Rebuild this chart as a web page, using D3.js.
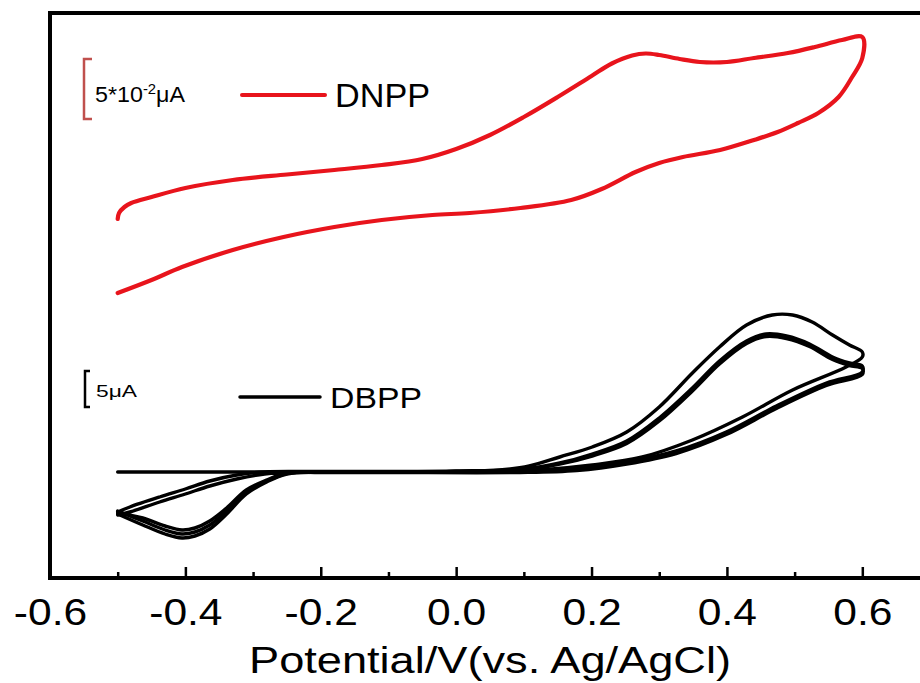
<!DOCTYPE html>
<html>
<head>
<meta charset="utf-8">
<script src="https://cdn.jsdelivr.net/npm/d3@7"></script>
<style>
  html, body { margin: 0; padding: 0; background: #ffffff; overflow: hidden; }
  svg { display: block; }
  text { font-family: "Liberation Sans", Arial, sans-serif; fill: #000; }
</style>
</head>
<body>
<svg id="chart" width="920" height="683" viewBox="0 0 920 683"></svg>
<script>
// Potential axis ticks (V vs. Ag/AgCl)
const majorTicks = [-0.6, -0.4, -0.2, 0.0, 0.2, 0.4, 0.6];
const tickLabels = ["-0.6", "-0.4", "-0.2", "0.0", "0.2", "0.4", "0.6"];
const minorTicks = [-0.5, -0.3, -0.1, 0.1, 0.3, 0.5, 0.7];

// DNPP voltammogram, [potential V, offset current a.u.]
const dnppForward = [
  [-0.500, 71.8], [-0.498, 73.0], [-0.490, 74.2], [-0.480, 75.0], [-0.450, 76.2],
  [-0.400, 78.0], [-0.330, 79.6], [-0.250, 80.7], [-0.180, 81.6], [-0.110, 82.6],
  [-0.050, 83.8], [0.000, 85.8], [0.050, 88.6], [0.100, 92.2], [0.150, 96.2],
  [0.200, 100.4], [0.230, 102.9], [0.260, 104.5], [0.280, 104.9], [0.300, 104.6],
  [0.330, 103.8], [0.360, 103.2], [0.400, 103.2], [0.440, 104.0], [0.490, 105.0],
  [0.530, 106.2], [0.570, 107.6], [0.600, 108.2]
];
const dnppReverse = [
  [0.600, 104.0], [0.585, 100.2], [0.565, 96.2], [0.535, 93.0], [0.505, 91.0],
  [0.475, 89.2], [0.440, 87.6], [0.390, 85.6], [0.335, 84.2], [0.300, 83.0],
  [0.265, 81.2], [0.215, 77.8], [0.170, 75.6], [0.095, 74.0], [0.020, 73.0],
  [-0.035, 72.6], [-0.110, 71.6], [-0.180, 70.2], [-0.255, 68.2], [-0.330, 65.6],
  [-0.405, 62.2], [-0.450, 59.6], [-0.500, 57.0]
];

// DBPP voltammograms, three successive cycles
const dbppCycle1 = [
  [-0.500, 21.2], [-0.400, 21.2], [-0.300, 21.2], [-0.200, 21.2], [-0.100, 21.2],
  [0.000, 21.3], [0.064, 21.6], [0.108, 22.4], [0.153, 24.2], [0.201, 26.2],
  [0.252, 29.2], [0.300, 34.2], [0.349, 41.0], [0.389, 46.2], [0.429, 50.6],
  [0.467, 52.6], [0.497, 52.6], [0.526, 51.2], [0.556, 48.6], [0.581, 46.6],
  [0.600, 45.2], [0.600, 44.2], [0.576, 42.2], [0.497, 37.6], [0.423, 32.2],
  [0.349, 27.6], [0.275, 24.2], [0.201, 22.6], [0.123, 21.6], [0.035, 21.2],
  [-0.100, 21.2], [-0.200, 21.2], [-0.250, 20.8], [-0.280, 19.2], [-0.310, 16.8],
  [-0.339, 12.8], [-0.364, 9.8], [-0.386, 8.4], [-0.405, 8.0], [-0.430, 8.8],
  [-0.463, 10.6], [-0.500, 12.8]
];
const dbppCycle2 = [
  [-0.500, 13.2], [-0.482, 14.2], [-0.438, 16.2], [-0.400, 17.8], [-0.364, 19.4],
  [-0.324, 20.6], [-0.283, 21.2], [-0.230, 21.3], [-0.100, 21.3], [0.000, 21.4],
  [0.100, 21.8], [0.153, 23.0], [0.201, 24.8], [0.252, 27.4], [0.300, 32.0],
  [0.349, 38.0], [0.389, 43.4], [0.429, 47.4], [0.458, 48.8], [0.488, 48.4],
  [0.522, 46.8], [0.556, 44.2], [0.581, 43.0], [0.600, 42.4], [0.600, 41.2],
  [0.547, 39.0], [0.473, 34.4], [0.399, 29.2], [0.325, 25.4], [0.252, 23.2],
  [0.178, 21.8], [0.094, 21.2], [-0.100, 21.2], [-0.200, 21.2], [-0.250, 20.9],
  [-0.280, 19.4], [-0.310, 17.2], [-0.339, 13.4], [-0.364, 10.6], [-0.386, 9.2],
  [-0.405, 8.8], [-0.430, 9.6], [-0.463, 11.4], [-0.500, 13.4]
];
const dbppCycle3 = [
  [-0.500, 12.6], [-0.482, 13.2], [-0.438, 15.2], [-0.400, 16.8], [-0.364, 18.4],
  [-0.324, 19.8], [-0.283, 20.8], [-0.230, 21.2], [-0.100, 21.2], [0.000, 21.3],
  [0.100, 21.7], [0.153, 22.8], [0.201, 24.4], [0.252, 26.9], [0.300, 31.4],
  [0.349, 37.4], [0.389, 42.8], [0.429, 46.9], [0.458, 48.3], [0.488, 47.9],
  [0.522, 46.3], [0.556, 43.7], [0.581, 42.5], [0.600, 41.9], [0.600, 40.7],
  [0.547, 38.5], [0.473, 33.9], [0.399, 28.7], [0.325, 24.9], [0.252, 22.8],
  [0.178, 21.5], [0.094, 21.1], [-0.100, 21.1], [-0.200, 21.1], [-0.250, 21.0],
  [-0.280, 19.6], [-0.310, 17.6], [-0.339, 14.0], [-0.364, 11.4], [-0.386, 10.0],
  [-0.405, 9.6], [-0.430, 10.4], [-0.463, 12.0], [-0.500, 13.0]
];

const seriesNames = ["DNPP", "DBPP"];
const scaleBarLabels = ["5*10", "-2", "\u03bcA", "5\u03bcA"];
const axisTitle = "Potential/V(vs. Ag/AgCl)";

const svg = d3.select("#chart");
const W = 920;

const x = d3.scaleLinear().domain([-0.6, 0.7]).range([50, 930]);
const y = d3.scaleLinear().domain([0, 113]).range([578, 13]);

const line = d3.line()
  .x(d => x(d[0]))
  .y(d => y(d[1]))
  .curve(d3.curveCatmullRom.alpha(0.5));

// bottom axis: major and minor ticks pointing inward
const axisG = svg.append("g").attr("transform", `translate(0,${y(0)})`);
axisG.call(d3.axisBottom(x).tickValues(majorTicks)
    .tickSizeInner(-11).tickSizeOuter(0).tickPadding(21)
    .tickFormat((d, i) => tickLabels[i]));
axisG.select(".domain").remove();
axisG.selectAll(".tick line").attr("stroke", "#000").attr("stroke-width", 2.5);
axisG.selectAll(".tick text")
  .attr("font-size", 37)
  .attr("fill", "#000")
  .attr("transform", "scale(1.15,1)");

const minorG = svg.append("g").attr("transform", `translate(0,${y(0)})`);
minorG.call(d3.axisBottom(x).tickValues(minorTicks)
    .tickSizeInner(-6).tickSizeOuter(0).tickFormat(""));
minorG.select(".domain").remove();
minorG.selectAll(".tick line").attr("stroke", "#000").attr("stroke-width", 2.5);

// axis title
svg.append("text")
  .attr("x", 249).attr("y", 673)
  .attr("font-size", 36)
  .attr("textLength", 482)
  .attr("lengthAdjust", "spacingAndGlyphs")
  .text(axisTitle);

// curves
const redColor = "#e8141c";
svg.append("path")
  .attr("d", line(dnppForward.concat(dnppReverse)))
  .attr("fill", "none").attr("stroke", redColor)
  .attr("stroke-width", 4.2).attr("stroke-linejoin", "round").attr("stroke-linecap", "round");

[dbppCycle1, dbppCycle2, dbppCycle3].forEach(cyc => {
  svg.append("path")
    .attr("d", line(cyc))
    .attr("fill", "none").attr("stroke", "#000")
    .attr("stroke-width", 3.4)
    .attr("stroke-linejoin", "round").attr("stroke-linecap", "round");
});

// legend + scale bars
function bracket(g, x0, y0, y1, w, color, sw) {
  g.append("path")
    .attr("d", `M${x0 + w},${y0}H${x0}V${y1}H${x0 + w}`)
    .attr("fill", "none").attr("stroke", color).attr("stroke-width", sw);
}
const leg = svg.append("g");

// DNPP
bracket(leg, 84, 59, 119, 8, "#c0504d", 2.5);
const t1 = leg.append("text").attr("x", 95).attr("y", 102).attr("font-size", 22)
  .attr("textLength", 90).attr("lengthAdjust", "spacingAndGlyphs");
t1.append("tspan").text(scaleBarLabels[0]);
t1.append("tspan").attr("font-size", 14).attr("dy", -8).text(scaleBarLabels[1]);
t1.append("tspan").attr("dy", 8).text(scaleBarLabels[2]);
leg.append("line").attr("x1", 242).attr("x2", 325).attr("y1", 95).attr("y2", 95)
  .attr("stroke", redColor).attr("stroke-width", 4).attr("stroke-linecap", "round");
leg.append("text").attr("x", 335).attr("y", 107).attr("font-size", 33)
  .attr("textLength", 95).attr("lengthAdjust", "spacingAndGlyphs").text(seriesNames[0]);

// DBPP
bracket(leg, 85, 371, 407, 5, "#000", 2.5);
leg.append("text").attr("x", 96).attr("y", 397).attr("font-size", 16.5)
  .attr("textLength", 41).attr("lengthAdjust", "spacingAndGlyphs").text(scaleBarLabels[3]);
leg.append("line").attr("x1", 240).attr("x2", 320).attr("y1", 397).attr("y2", 397)
  .attr("stroke", "#000").attr("stroke-width", 3.5).attr("stroke-linecap", "round");
leg.append("text").attr("x", 330).attr("y", 408).attr("font-size", 30)
  .attr("textLength", 92).attr("lengthAdjust", "spacingAndGlyphs").text(seriesNames[1]);

// plot frame, drawn last; the right side lies past the visible width
const frame = svg.append("g").attr("fill", "#000");
const fx0 = x(-0.6), fx1 = Math.min(x(0.7), W), fy0 = y(113), fy1 = y(0);
frame.append("rect").attr("x", fx0 - 2).attr("y", fy0 - 2).attr("width", fx1 - fx0 + 2).attr("height", 4);
frame.append("rect").attr("x", fx0 - 2).attr("y", fy1 - 2).attr("width", fx1 - fx0 + 2).attr("height", 4);
frame.append("rect").attr("x", fx0 - 2).attr("y", fy0 - 2).attr("width", 4).attr("height", fy1 - fy0 + 4);
</script>
</body>
</html>
